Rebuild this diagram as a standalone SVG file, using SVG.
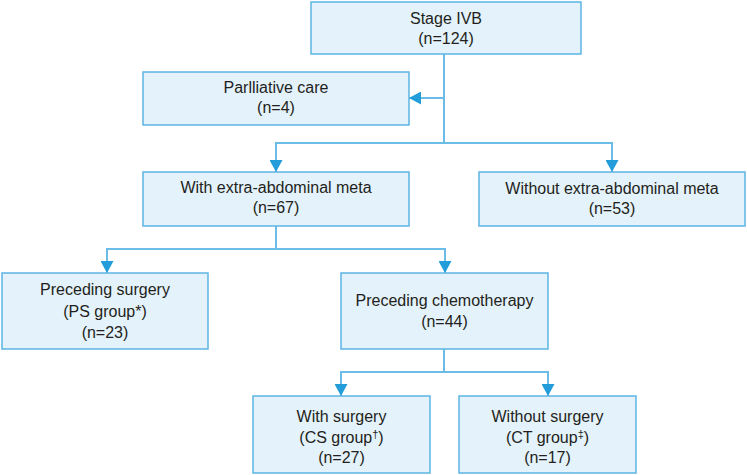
<svg xmlns="http://www.w3.org/2000/svg" width="747" height="475" viewBox="0 0 747 475">
<defs>
<style>
.box{fill:#e4f2fb;stroke:#5cb5e5;stroke-width:1.5}
.t{font-family:"Liberation Sans",Arial,sans-serif;font-size:16px;fill:#231f20;text-anchor:middle}
.c{fill:none;stroke:#6bbde8;stroke-width:2}
</style>
<marker id="ah" viewBox="0 0 12 13" refX="12" refY="6.5" markerWidth="12" markerHeight="13" markerUnits="userSpaceOnUse" orient="auto">
<path d="M0,0 L12,6.5 L0,13 Z" fill="#229dda"/>
</marker>
</defs>
<rect width="747" height="475" fill="#ffffff"/>
<g id="connectors">
<path class="c" d="M444,54 V143"/>
<path class="c" d="M444,98 H409" marker-end="url(#ah)"/>
<path class="c" d="M444,143 H276 V172" marker-end="url(#ah)"/>
<path class="c" d="M444,143 H612 V172" marker-end="url(#ah)"/>
<path class="c" d="M276,226 V249"/>
<path class="c" d="M276,249 H107 V273" marker-end="url(#ah)"/>
<path class="c" d="M276,249 H445 V273" marker-end="url(#ah)"/>
<path class="c" d="M444,349 V372"/>
<path class="c" d="M444,372 H341 V396" marker-end="url(#ah)"/>
<path class="c" d="M444,372 H548 V396" marker-end="url(#ah)"/>
</g>
<g id="stage">
<rect class="box" x="311" y="2" width="270" height="52"/>
<text class="t" x="446" y="23.5">Stage IVB</text>
<text class="t" x="446" y="43.5">(n=124)</text>
</g>
<g id="palliative">
<rect class="box" x="143" y="72" width="266" height="53"/>
<text class="t" x="276" y="93">Parlliative care</text>
<text class="t" x="276" y="113">(n=4)</text>
</g>
<g id="with-meta">
<rect class="box" x="143" y="172" width="266" height="54"/>
<text class="t" x="276" y="193">With extra-abdominal meta</text>
<text class="t" x="276" y="213">(n=67)</text>
</g>
<g id="without-meta">
<rect class="box" x="479" y="172" width="266" height="54"/>
<text class="t" x="612" y="194">Without extra-abdominal meta</text>
<text class="t" x="612" y="214">(n=53)</text>
</g>
<g id="ps">
<rect class="box" x="2" y="273" width="206" height="76"/>
<text class="t" x="105" y="295">Preceding surgery</text>
<text class="t" x="105" y="317">(PS group*)</text>
<text class="t" x="105" y="338">(n=23)</text>
</g>
<g id="pc">
<rect class="box" x="341" y="273" width="207" height="76"/>
<text class="t" x="444.5" y="306">Preceding chemotherapy</text>
<text class="t" x="444.5" y="327">(n=44)</text>
</g>
<g id="cs">
<rect class="box" x="253" y="396" width="177" height="77"/>
<text class="t" x="341.5" y="422">With surgery</text>
<text class="t" x="341.5" y="443">(CS group<tspan font-size="11" dy="-5">†</tspan><tspan dy="5">)</tspan></text>
<text class="t" x="341.5" y="463">(n=27)</text>
</g>
<g id="ct">
<rect class="box" x="459" y="396" width="177" height="77"/>
<text class="t" x="547.5" y="422">Without surgery</text>
<text class="t" x="547.5" y="443">(CT group<tspan font-size="11" dy="-5">‡</tspan><tspan dy="5">)</tspan></text>
<text class="t" x="547.5" y="463">(n=17)</text>
</g>
</svg>
